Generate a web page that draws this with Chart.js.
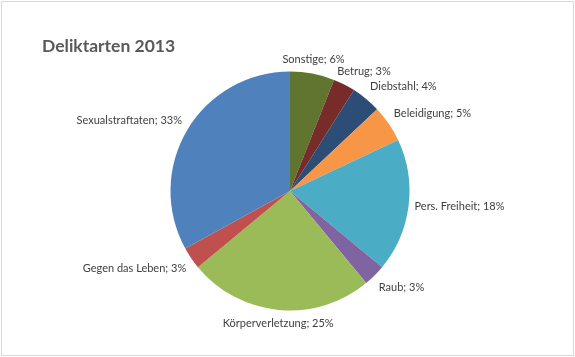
<!DOCTYPE html>
<html><head><meta charset="utf-8">
<script src="https://cdn.jsdelivr.net/npm/chart.js@4/dist/chart.umd.min.js"></script>
<style>html,body{margin:0;padding:0;background:#fff}#wrap{width:575px;height:357px;position:relative}</style>
</head><body><div id="wrap"><canvas id="c" width="575" height="357"></canvas></div>
<script>
const chartTitle = "Deliktarten 2013";
const categories = ["Sonstige","Betrug","Diebstahl","Beleidigung","Pers. Freiheit","Raub","Körperverletzung","Gegen das Leben","Sexualstraftaten"];
const percentages = [6,3,4,5,18,3,25,3,33];
const sliceColors = ["#5F7530","#772C2A","#2C4D75","#F79646","#4BACC6","#8064A2","#9BBB59","#C0504D","#4F81BD"];

const FONT = "Lato, 'Open Sans', sans-serif";

function ramp(v){ const a=Math.abs(v); const t=Math.max(0,Math.min(1,(a-0.2)/0.4)); return Math.sign(v)*t; }

const decor = {
  id:'decor',
  beforeDraw(chart){
    const ctx=chart.ctx;
    ctx.save();
    ctx.fillStyle='#fff'; ctx.fillRect(0,0,chart.width,chart.height);
    ctx.strokeStyle='#d9d9d9'; ctx.lineWidth=1;
    ctx.strokeRect(1.5,1.5,572,354);
    ctx.restore();
  },
  afterDraw(chart){
    const ctx=chart.ctx;
    ctx.save();
    ctx.fillStyle='#595959';
    ctx.font="bold 17.5px "+FONT;
    ctx.textBaseline='middle'; ctx.textAlign='left';
    ctx.fillText(chartTitle,42,46);
    const meta=chart.getDatasetMeta(0);
    ctx.font="11px "+FONT;
    ctx.fillStyle='#404040';
    ctx.textAlign='center';
    meta.data.forEach((arc,i)=>{
      const p=arc.getProps(['x','y','startAngle','endAngle','outerRadius'],true);
      const mid=(p.startAngle+p.endAngle)/2;
      const c=Math.cos(mid), s=Math.sin(mid);
      const r=p.outerRadius+6;
      const px=p.x+r*c, py=p.y+r*s;
      const txt=categories[i]+"; "+percentages[i]+"%";
      const w=ctx.measureText(txt).width, h=16;
      const cx=px+ramp(c)*w/2, cy=py+ramp(s)*h/2;
      ctx.fillText(txt,cx,cy);
    });
    ctx.restore();
  }
};

new Chart(document.getElementById('c'),{
  type:'pie',
  data:{labels:categories,datasets:[{data:percentages,backgroundColor:sliceColors,borderWidth:0}]},
  options:{
    responsive:false,animation:false,
    rotation:0,
    layout:{padding:{left:170.5,right:165.5,top:71.5,bottom:46.5}},
    plugins:{legend:{display:false},tooltip:{enabled:false},title:{display:false}}
  },
  plugins:[decor]
});
</script></body></html>
